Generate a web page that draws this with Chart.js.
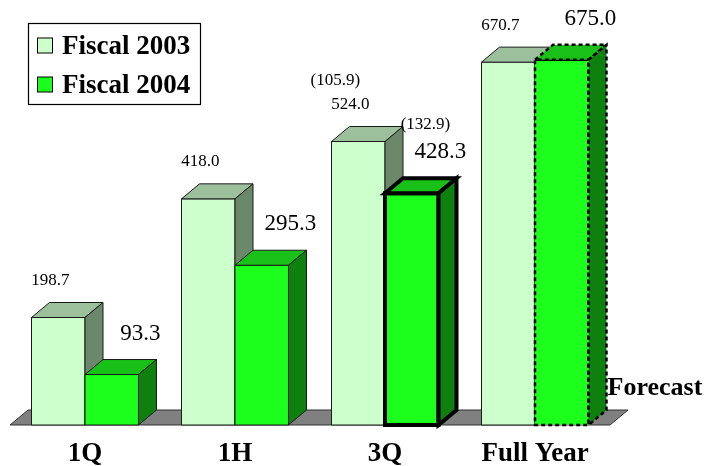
<!DOCTYPE html>
<html><head><meta charset="utf-8">
<script src="https://cdn.jsdelivr.net/npm/chart.js@4/dist/chart.umd.min.js"></script>
<style>html,body{margin:0;padding:0;background:#fff;} canvas{display:block;}</style>
</head><body>
<canvas id="c" width="707" height="466"></canvas>
<script>
// ---- data ----
const categories = ['1Q', '1H', '3Q', 'Full Year'];
const seriesNames = ['Fiscal 2003', 'Fiscal 2004'];
const fiscal2003 = [198.7, 418.0, 524.0, 670.7];
const fiscal2004 = [93.3, 295.3, 428.3, 675.0];
const quarterOnly2003 = [null, null, 105.9, null];
const quarterOnly2004 = [null, null, 132.9, null];
const forecastText = 'Forecast';
const yMax = 780;

// ---- styles ----
const SERIF = "'Liberation Serif','Times New Roman',serif";
const DX = 18, DY = 15;
const palettes = [
  {front: '#CCFFCC', top: '#9CBF9C', side: '#6A886A'},
  {front: '#1CFF1C', top: '#18C018', side: '#0E800E'}
];
const highlightIndex = 2, forecastIndex = 3;

function poly(ctx, pts, fill, st) {
  ctx.beginPath();
  ctx.moveTo(pts[0][0], pts[0][1]);
  for (let k = 1; k < pts.length; k++) ctx.lineTo(pts[k][0], pts[k][1]);
  ctx.closePath();
  ctx.fillStyle = fill; ctx.fill();
  ctx.lineWidth = st.lw; ctx.strokeStyle = st.color; ctx.setLineDash(st.dash);
  ctx.lineJoin = 'miter';
  ctx.stroke();
}
function drawBox(ctx, x0, x1, yt, yb, pal, st) {
  poly(ctx, [[x0, yt], [x1, yt], [x1, yb], [x0, yb]], pal.front, st);
  poly(ctx, [[x0, yt], [x0 + DX, yt - DY], [x1 + DX, yt - DY], [x1, yt]], pal.top, st);
  poly(ctx, [[x1, yt], [x1 + DX, yt - DY], [x1 + DX, yb - DY], [x1, yb]], pal.side, st);
  ctx.setLineDash([]);
}

const threeD = {
  id: 'threeD',
  beforeDatasetsDraw(chart) {
    const {ctx, chartArea: a, scales: {y}} = chart;
    const base = y.getPixelForValue(0);
    ctx.save();
    poly(ctx, [[a.left, base], [a.right, base], [a.right + DX, base - DY], [a.left + DX, base - DY]],
      '#808080', {lw: 1, color: '#333', dash: []});
    ctx.restore();
  },
  afterDatasetsDraw(chart) {
    const ctx = chart.ctx;
    const metas = [chart.getDatasetMeta(0), chart.getDatasetMeta(1)];
    const xs = chart.scales.x, ys = chart.scales.y;
    const base = ys.getPixelForValue(0);
    ctx.save();
    let lastRight = 0;
    for (let i = 0; i < categories.length; i++) {
      metas.forEach((m, d) => {
        const p = m.data[i].getProps(['x', 'y', 'base', 'width'], true);
        const x0 = p.x - p.width / 2, x1 = p.x + p.width / 2;
        let st = {lw: 1, color: '#1a1a1a', dash: []};
        if (d === 1 && i === highlightIndex) st = {lw: 4, color: '#000', dash: []};
        if (d === 1 && i === forecastIndex) st = {lw: 2.5, color: '#000', dash: [4, 3]};
        drawBox(ctx, x0, x1, p.y, p.base, palettes[d], st);
        lastRight = x1;
      });
    }
    // value labels
    ctx.fillStyle = '#000';
    ctx.textAlign = 'center';
    ctx.textBaseline = 'middle';
    for (let i = 0; i < categories.length; i++) {
      const p0 = metas[0].data[i].getProps(['x', 'y', 'width'], true);
      const l0x = p0.x - 8, l0y = p0.y - 37;
      ctx.font = '17px ' + SERIF;
      ctx.fillText(fiscal2003[i].toFixed(1), l0x, l0y);
      if (quarterOnly2003[i] != null) ctx.fillText('(' + quarterOnly2003[i].toFixed(1) + ')', l0x - 15, l0y - 24);

      const p1 = metas[1].data[i].getProps(['x', 'y', 'width'], true);
      const l1x = p1.x + p1.width / 2 + 2, l1y = p1.y - 41;
      ctx.font = '23px ' + SERIF;
      ctx.fillText(fiscal2004[i].toFixed(1), l1x, l1y);
      ctx.font = '17px ' + SERIF;
      if (quarterOnly2004[i] != null) ctx.fillText('(' + quarterOnly2004[i].toFixed(1) + ')', l1x - 15, l1y - 28);
    }
    // category labels
    ctx.font = 'bold 27px ' + SERIF;
    ctx.textBaseline = 'alphabetic';
    categories.forEach((c, i) => ctx.fillText(c, xs.getPixelForValue(i), base + 36));
    // forecast
    ctx.textAlign = 'left';
    ctx.font = 'bold 26px ' + SERIF;
    ctx.fillText(forecastText, lastRight + DX + 1, base - 30);
    // legend
    ctx.lineWidth = 1.2; ctx.strokeStyle = '#000';
    ctx.fillStyle = '#fff';
    ctx.fillRect(28.5, 23.5, 172, 81);
    ctx.strokeRect(28.5, 23.5, 172, 81);
    const rows = [54, 93];
    seriesNames.forEach((n, d) => {
      ctx.fillStyle = palettes[d].front;
      ctx.fillRect(37.5, rows[d] - 16, 15, 15);
      ctx.lineWidth = 1; ctx.strokeRect(37.5, rows[d] - 16, 15, 15);
      ctx.fillStyle = '#000';
      ctx.font = 'bold 27px ' + SERIF;
      ctx.fillText(n, 62, rows[d]);
    });
    ctx.restore();
  }
};

new Chart(document.getElementById('c'), {
  type: 'bar',
  data: {
    labels: categories,
    datasets: [
      {label: seriesNames[0], data: fiscal2003, backgroundColor: 'rgba(0,0,0,0)', borderWidth: 0,
       categoryPercentage: 0.7133, barPercentage: 1},
      {label: seriesNames[1], data: fiscal2004, backgroundColor: 'rgba(0,0,0,0)', borderWidth: 0,
       categoryPercentage: 0.7133, barPercentage: 1}
    ]
  },
  options: {
    responsive: false,
    animation: false,
    layout: {padding: {left: 10, right: 97, top: 3, bottom: 41}},
    scales: {
      x: {display: false},
      y: {display: false, min: 0, max: yMax}
    },
    plugins: {legend: {display: false}, tooltip: {enabled: false}}
  },
  plugins: [threeD]
});
</script>
</body></html>
